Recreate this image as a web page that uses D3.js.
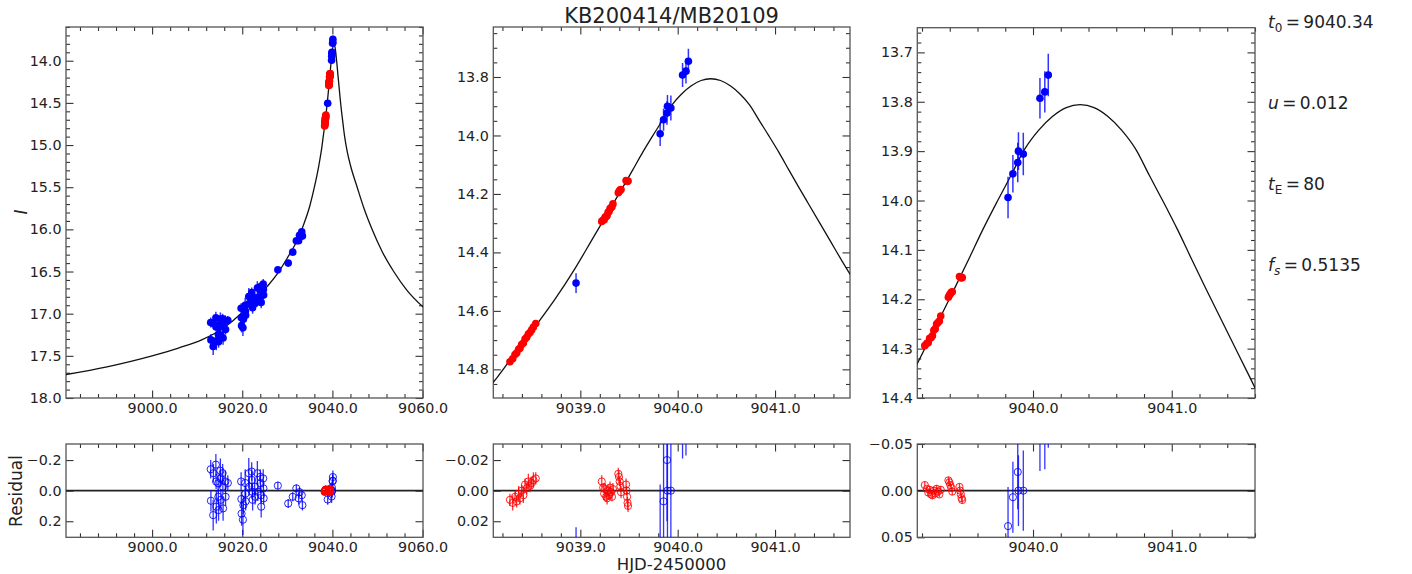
<!DOCTYPE html>
<html>
<head>
<meta charset="utf-8">
<script src="https://cdn.jsdelivr.net/npm/d3@7"></script>
<style>
  body { margin: 0; background: #fff; }
  svg { display: block; font-family: "DejaVu Sans", "Liberation Sans", sans-serif; }
</style>
</head>
<body>
<svg id="chart" width="1412" height="574"></svg>
<script>
// ---- Photometry: KMTNet (blue) ----
const blueT = [
  9013.00, 9013.05, 9013.55, 9013.60, 9014.15, 9014.20, 9014.25, 9014.65, 9014.70, 9014.75,
  9015.15, 9015.20, 9015.25, 9015.65, 9015.70, 9015.75, 9016.25, 9016.30, 9016.80,
  9019.75, 9019.80, 9019.85, 9020.15, 9020.25, 9020.65, 9020.70, 9020.75, 9021.45, 9021.55,
  9022.10, 9022.15, 9022.25, 9022.30, 9022.75, 9022.85, 9023.35, 9023.45, 9024.00, 9024.05,
  9024.15, 9024.20, 9024.65, 9024.70, 9024.75,
  9027.90, 9030.20, 9031.20, 9032.00, 9032.50, 9032.70, 9033.20, 9033.35,
  9038.956, 9039.820, 9039.855, 9039.890, 9039.895, 9039.930, 9040.050, 9040.085, 9040.110
];
const blueMag = [
  17.105, 17.311, 17.390, 17.116, 17.048, 17.158, 17.323, 17.159, 17.247, 17.334,
  17.065, 17.113, 17.253, 17.061, 17.147, 17.289, 17.090, 17.188, 17.078,
  16.936, 17.049, 17.142, 17.166, 17.067, 16.902, 16.970, 17.020, 16.796, 16.880,
  16.750, 16.805, 16.879, 16.930, 16.816, 16.880, 16.694, 16.810, 16.680, 16.719,
  16.794, 16.866, 16.650, 16.713, 16.778,
  16.480, 16.400, 16.270, 16.135, 16.135, 16.070, 16.030, 16.080,
  14.505, 13.994, 13.946, 13.923, 13.900, 13.906, 13.793, 13.780, 13.746
];
const blueErr = [
  0.06, 0.07, 0.10, 0.06, 0.07, 0.05, 0.11, 0.06, 0.05, 0.07,
  0.08, 0.06, 0.07, 0.06, 0.05, 0.08, 0.07, 0.06, 0.05,
  0.06, 0.05, 0.08, 0.10, 0.06, 0.09, 0.05, 0.06, 0.10, 0.06,
  0.06, 0.06, 0.05, 0.07, 0.06, 0.05, 0.08, 0.06, 0.05, 0.06,
  0.05, 0.07, 0.06, 0.05, 0.04,
  0.025, 0.030, 0.030, 0.025, 0.040, 0.030, 0.030, 0.035,
  0.034, 0.042, 0.038, 0.040, 0.038, 0.043, 0.041, 0.042, 0.043
];
const blueRes = [
  -0.140, 0.066, 0.160, -0.114, -0.170, -0.060, 0.105, -0.048, 0.040, 0.127,
  -0.130, -0.080, 0.060, -0.114, -0.026, 0.116, -0.060, 0.040, -0.050,
  -0.060, 0.055, 0.150, 0.190, 0.095, -0.050, 0.020, 0.070, -0.114, -0.026,
  -0.125, -0.070, 0.007, 0.060, -0.026, 0.040, -0.114, 0.007, -0.090, -0.048,
  0.030, 0.105, -0.080, -0.015, 0.050,
  -0.033, 0.084, 0.040, -0.015, 0.050, 0.010, 0.030, 0.095,
  0.058, 0.038, 0.007, -0.020, 0.000, 0.000, -0.062, -0.065, -0.089
];

// ---- Photometry: MOA (red) ----
const redT = [
  9038.277, 9038.305, 9038.329, 9038.346, 9038.366, 9038.380, 9038.397, 9038.415,
  9038.432, 9038.449, 9038.466, 9038.483, 9038.500, 9038.518, 9038.542,
  9039.220, 9039.235, 9039.245, 9039.255, 9039.265, 9039.275, 9039.285, 9039.295,
  9039.305, 9039.315, 9039.325, 9039.335,
  9039.390, 9039.397, 9039.404, 9039.411, 9039.418,
  9039.470, 9039.475, 9039.480, 9039.485, 9039.490
];
const redMag = [
  14.774, 14.764, 14.749, 14.744, 14.731, 14.728, 14.715, 14.710,
  14.696, 14.690, 14.679, 14.674, 14.665, 14.655, 14.643,
  14.294, 14.289, 14.288, 14.279, 14.278, 14.274, 14.263, 14.260,
  14.250, 14.247, 14.244, 14.234,
  14.196, 14.192, 14.189, 14.186, 14.185,
  14.154, 14.155, 14.156, 14.157, 14.156
];
const redErr = [
  0.004, 0.005, 0.004, 0.004, 0.005, 0.004, 0.004, 0.005,
  0.004, 0.004, 0.005, 0.004, 0.004, 0.005, 0.004,
  0.004, 0.003, 0.004, 0.004, 0.003, 0.004, 0.004, 0.003,
  0.004, 0.004, 0.003, 0.004,
  0.004, 0.004, 0.003, 0.004, 0.004,
  0.004, 0.003, 0.004, 0.004, 0.004
];
const redRes = [
  0.006, 0.008, 0.004, 0.007, 0.002, 0.005, 0.000, 0.003,
  -0.004, -0.0015, -0.006, -0.003, -0.005, -0.007, -0.008,
  -0.006, -0.002, 0.002, -0.001, 0.004, 0.005, 0.000, 0.003,
  -0.002, 0.001, 0.004, -0.001,
  -0.011, -0.009, -0.006, -0.003, 0.001,
  -0.004, 0.000, 0.004, 0.008, 0.010
];

// ---- Best-fit light curve, sampled ----
const modelT = [
  8980.0, 8990.0, 9000.0, 9006.0, 9011.0, 9015.0, 9018.0, 9020.5, 9023.0, 9025.5,
  9028.0, 9030.0, 9032.0, 9033.5, 9035.0, 9036.0, 9037.0, 9037.7,
  9037.94, 9038.14, 9038.34, 9038.54, 9038.74, 9038.94, 9039.14, 9039.34, 9039.44,
  9039.54, 9039.64, 9039.74, 9039.84, 9039.94, 9040.04, 9040.14, 9040.24, 9040.34,
  9040.44, 9040.54, 9040.64, 9040.74, 9040.84, 9040.94, 9041.04, 9041.14, 9041.24,
  9041.34, 9041.54, 9041.74, 9041.94, 9042.14, 9042.34, 9042.54, 9042.74,
  9043.3, 9044.0, 9045.5, 9047.0, 9048.8, 9051.0, 9053.6, 9056.5, 9060.5
];
const modelMag = [
  17.73, 17.63, 17.50, 17.405, 17.31, 17.20, 17.08, 16.96, 16.83, 16.68,
  16.51, 16.34, 16.15, 15.96, 15.72, 15.50, 15.24, 15.01,
  14.910, 14.830, 14.740, 14.652, 14.560, 14.458, 14.345, 14.232, 14.175,
  14.117, 14.058, 14.003, 13.950, 13.896, 13.858, 13.830, 13.812, 13.806,
  13.812, 13.830, 13.858, 13.896, 13.950, 14.003, 14.058, 14.117, 14.175,
  14.232, 14.345, 14.458, 14.560, 14.652, 14.740, 14.830, 14.910,
  15.08, 15.24, 15.50, 15.75, 16.00, 16.26, 16.50, 16.72, 16.94
];

// ---- Text ----
const chartTitle = "KB200414/MB20109";
const xAxisTitle = "HJD-2450000";
const yAxisTitle = "I";
const resAxisTitle = "Residual";
const paramSymbol = ["t", "u", "t", "f"];
const paramSub = ["0", "", "E", "s"];
const paramSubItalic = [false, false, false, true];
const paramValue = ["9040.34", "0.012", "80", "0.5135"];

// ---- Tick values ----
const p1XTicks = [9000, 9020, 9040, 9060];
const p1YTicks = [14.0, 14.5, 15.0, 15.5, 16.0, 16.5, 17.0, 17.5, 18.0];
const p1RTicks = [-0.2, 0.0, 0.2];
const p2XTicks = [9039, 9040, 9041];
const p2YTicks = [13.8, 14.0, 14.2, 14.4, 14.6, 14.8];
const p2RTicks = [-0.02, 0.00, 0.02];
const p3XTicks = [9040, 9041];
const p3YTicks = [13.7, 13.8, 13.9, 14.0, 14.1, 14.2, 14.3, 14.4];
const p3RTicks = [-0.05, 0.00, 0.05];

// ---- Layout ----
const panels = [
  { main: { x0: 66, x1: 423, y0: 27, y1: 398 }, res: { x0: 66, x1: 423, y0: 444, y1: 537.3 },
    xDom: [8980.9, 9060.1], yDom: [13.6, 18.0], rDom: [-0.305, 0.305],
    xMajor: p1XTicks, xStep: 4, yMajor: p1YTicks, yStep: 0.1, rMajor: p1RTicks,
    xFmt: ".1f", yFmt: ".1f", rFmt: ".1f" },
  { main: { x0: 493.3, x1: 850, y0: 27, y1: 398 }, res: { x0: 493.3, x1: 850, y0: 444, y1: 537.3 },
    xDom: [9038.106, 9041.77], yDom: [13.629, 14.898], rDom: [-0.0305, 0.0305],
    xMajor: p2XTicks, xStep: 0.2, yMajor: p2YTicks, yStep: 0.05, rMajor: p2RTicks,
    xFmt: ".1f", yFmt: ".1f", rFmt: ".2f" },
  { main: { x0: 917.3, x1: 1255, y0: 27.7, y1: 398 }, res: { x0: 917.3, x1: 1255, y0: 444, y1: 537.3 },
    xDom: [9039.166, 9041.60], yDom: [13.65, 14.4], rDom: [-0.05, 0.05],
    xMajor: p3XTicks, xStep: 0.2, yMajor: p3YTicks, yStep: 0.02, rMajor: p3RTicks,
    xFmt: ".1f", yFmt: ".1f", rFmt: ".2f" }
];

const BLUE = "#0000ff", RED = "#ff0000";
const FRAME = "#555555", TEXT = "#222222";
const TICK_FONT = 14.3, MAJ = 7.5, MIN = 4;

const blue = blueT.map((t, i) => ({ t, m: blueMag[i], e: blueErr[i], r: blueRes[i] }));
const red = redT.map((t, i) => ({ t, m: redMag[i], e: redErr[i], r: redRes[i] }));
const model = modelT.map((t, i) => ({ t, m: modelMag[i] }));

const svg = d3.select("#chart");
const defs = svg.append("defs");

function stepTicks(dom, step) {
  const lo = Math.min(dom[0], dom[1]), hi = Math.max(dom[0], dom[1]);
  return d3.range(Math.ceil(lo / step - 1e-6), Math.floor(hi / step + 1e-6) + 1)
    .map(i => +(i * step).toFixed(6));
}
function minorOf(dom, step, major) {
  return stepTicks(dom, step).filter(v => !major.some(m => Math.abs(m - v) < 1e-6));
}
function styleAxis(g) {
  g.select(".domain").remove();
  g.selectAll(".tick line").attr("stroke", "#333").attr("stroke-width", 1.1);
  g.selectAll(".tick text").attr("fill", TEXT).attr("font-size", TICK_FONT)
    .attr("font-family", "DejaVu Sans, sans-serif");
}

// Frame with inward ticks on all four sides
function drawAxes(g, box, x, y, xMajor, xMinor, yMajor, yMinor, xFmt, yFmt) {
  const blank = () => "";
  const ax = [
    [d3.axisBottom(x).tickValues(xMajor).tickSizeInner(-MAJ).tickFormat(d3.format(xFmt)), `translate(0,${box.y1})`],
    [d3.axisBottom(x).tickValues(xMinor).tickSizeInner(-MIN).tickFormat(blank), `translate(0,${box.y1})`],
    [d3.axisTop(x).tickValues(xMajor).tickSizeInner(-MAJ).tickFormat(blank), `translate(0,${box.y0})`],
    [d3.axisTop(x).tickValues(xMinor).tickSizeInner(-MIN).tickFormat(blank), `translate(0,${box.y0})`],
    [d3.axisLeft(y).tickValues(yMajor).tickSizeInner(-MAJ).tickFormat(d3.format(yFmt)), `translate(${box.x0},0)`],
    [d3.axisLeft(y).tickValues(yMinor).tickSizeInner(-MIN).tickFormat(blank), `translate(${box.x0},0)`],
    [d3.axisRight(y).tickValues(yMajor).tickSizeInner(-MAJ).tickFormat(blank), `translate(${box.x1},0)`],
    [d3.axisRight(y).tickValues(yMinor).tickSizeInner(-MIN).tickFormat(blank), `translate(${box.x1},0)`]
  ];
  ax.forEach(([a, tr]) => {
    g.append("g").attr("transform", tr)
      .call(a.tickSizeOuter(0).tickPadding(4.5))
      .call(styleAxis);
  });
  g.append("rect")
    .attr("x", box.x0).attr("y", box.y0)
    .attr("width", box.x1 - box.x0).attr("height", box.y1 - box.y0)
    .attr("fill", "none").attr("stroke", FRAME).attr("stroke-width", 1.3);
}

function clipFor(id, box) {
  defs.append("clipPath").attr("id", id).append("rect")
    .attr("x", box.x0).attr("y", box.y0)
    .attr("width", box.x1 - box.x0).attr("height", box.y1 - box.y0);
  return `url(#${id})`;
}

panels.forEach((p, k) => {
  // ----- light-curve panel -----
  const bm = p.main;
  const x = d3.scaleLinear().domain(p.xDom).range([bm.x0, bm.x1]);
  const y = d3.scaleLinear().domain(p.yDom).range([bm.y0, bm.y1]);
  const gm = svg.append("g");
  drawAxes(gm, bm, x, y, p.xMajor, minorOf(p.xDom, p.xStep, p.xMajor),
           p.yMajor, minorOf(p.yDom, p.yStep, p.yMajor), p.xFmt, p.yFmt);

  const plot = gm.append("g").attr("clip-path", clipFor("clipMain" + k, bm));
  plot.append("path")
    .datum(model)
    .attr("fill", "none").attr("stroke", "#111").attr("stroke-width", 1.3)
    .attr("d", d3.line().x(d => x(d.t)).y(d => y(d.m)).curve(d3.curveMonotoneX));

  [[blue, BLUE], [red, RED]].forEach(([set, col]) => {
    plot.append("g").selectAll("line").data(set).join("line")
      .attr("x1", d => x(d.t)).attr("x2", d => x(d.t))
      .attr("y1", d => y(d.m - d.e)).attr("y2", d => y(d.m + d.e))
      .attr("stroke", col).attr("stroke-opacity", 0.8).attr("stroke-width", 1.5);
    plot.append("g").selectAll("circle").data(set).join("circle")
      .attr("cx", d => x(d.t)).attr("cy", d => y(d.m)).attr("r", 3.8)
      .attr("fill", col);
  });

  // ----- residual panel -----
  const br = p.res;
  const yr = d3.scaleLinear().domain(p.rDom).range([br.y0, br.y1]);
  const xr = d3.scaleLinear().domain(p.xDom).range([br.x0, br.x1]);
  const gr = svg.append("g");
  drawAxes(gr, br, xr, yr, p.xMajor, minorOf(p.xDom, p.xStep, p.xMajor),
           p.rMajor, [], p.xFmt, p.rFmt);
  const rplot = gr.append("g").attr("clip-path", clipFor("clipRes" + k, br));
  rplot.append("line")
    .attr("x1", br.x0).attr("x2", br.x1).attr("y1", yr(0)).attr("y2", yr(0))
    .attr("stroke", "#222").attr("stroke-width", 1.6);
  [[blue, BLUE], [red, RED]].forEach(([set, col]) => {
    rplot.append("g").selectAll("line").data(set).join("line")
      .attr("x1", d => xr(d.t)).attr("x2", d => xr(d.t))
      .attr("y1", d => yr(d.r - d.e)).attr("y2", d => yr(d.r + d.e))
      .attr("stroke", col).attr("stroke-opacity", 0.8).attr("stroke-width", 1.3);
    rplot.append("g").selectAll("circle").data(set).join("circle")
      .attr("cx", d => xr(d.t)).attr("cy", d => yr(d.r)).attr("r", 3.6)
      .attr("fill", "none").attr("stroke", col).attr("stroke-opacity", 0.85).attr("stroke-width", 1);
  });
});

// ----- titles and labels -----
svg.append("text")
  .attr("x", 671.5).attr("y", 22.5).attr("text-anchor", "middle")
  .attr("font-size", 21).attr("fill", TEXT).text(chartTitle);

svg.append("text")
  .attr("x", 671.5).attr("y", 570).attr("text-anchor", "middle")
  .attr("font-size", 16.5).attr("fill", TEXT).text(xAxisTitle);

svg.append("text")
  .attr("transform", "translate(27,212) rotate(-90)").attr("text-anchor", "middle")
  .attr("font-size", 17).attr("font-style", "italic").attr("fill", TEXT).text(yAxisTitle);

svg.append("text")
  .attr("transform", "translate(22,491) rotate(-90)").attr("text-anchor", "middle")
  .attr("font-size", 17).attr("fill", TEXT).text(resAxisTitle);

// fit parameters, set like inline math: symbol, subscript, tight "="
const paramBaseline = [28, 109, 190, 271];
const eq = "\u2009=\u2009";
paramSymbol.forEach((s, i) => {
  const t = svg.append("text")
    .attr("x", 1268).attr("y", paramBaseline[i])
    .attr("font-size", 17).attr("fill", TEXT);
  t.append("tspan").attr("font-style", "italic").text(s);
  if (paramSub[i]) {
    t.append("tspan").attr("dy", 4).attr("font-size", 12)
      .attr("font-style", paramSubItalic[i] ? "italic" : "normal").text(paramSub[i]);
    t.append("tspan").attr("dy", -4).text(eq + paramValue[i]);
  } else {
    t.append("tspan").text(eq + paramValue[i]);
  }
});
</script>
</body>
</html>
